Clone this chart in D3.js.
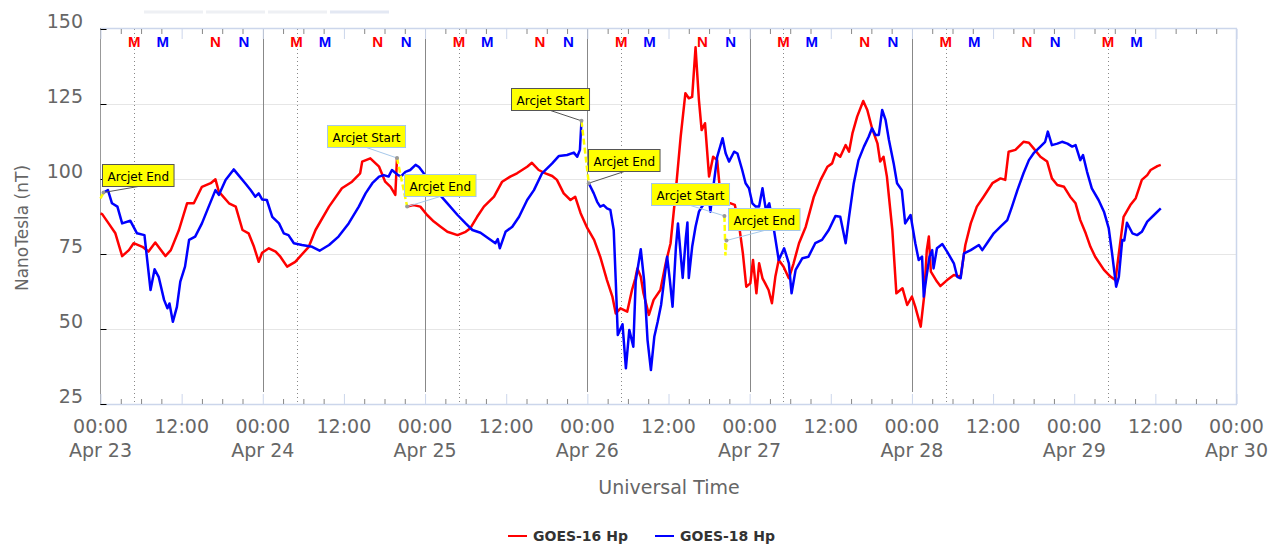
<!DOCTYPE html>
<meta charset="UTF-8">
<style>
body { margin: 0; background: #fff; }
svg { display: block; font-family: "DejaVu Sans", sans-serif; }
.tick-label { fill: #666; font-size: 19px; }
.axis-title { fill: #666; }
.note text { font-size: 12px; fill: #000; }
.legend text { font-size: 14px; font-weight: bold; fill: #333; }
.mn { font-family: "Liberation Sans", sans-serif; font-weight: bold; font-size: 15px; }
</style>
<body>
<script src="https://cdn.jsdelivr.net/npm/d3@7"></script>
<script>

// hours after Apr 23 00:00 UT, field in nT (null = gap during arcjet)
var goes16 = [
  [0,88.5],[0.25,88.3],[1.2,85.2],[2.2,81.9],[3.2,74.3],[4.2,76.3],[4.9,78.6],[6.2,77.4],[7.1,75.8],[8.1,78.8],
  [9.6,74.3],[10.4,76.3],[11.6,83],[12.8,91.9],[13.8,91.9],[15,97.4],[16.3,98.6],[17,99.9],[17.5,95.8],[19,91.9],
  [20,90.8],[21,83],[21.9,81.9],[22.7,77.4],[23.4,72.4],[23.9,75.4],[24.9,76.9],[25.9,75.8],[26.6,74.1],[27.6,70.8],
  [28.8,72.4],[30.8,77.4],[31.8,83],[33.8,90.8],[35.7,96.9],[37.2,99.1],[38.4,101.9],[38.7,105.8],[39.9,106.9],[41.2,104.1],
  [42.1,99.1],[42.9,97.4],[43.6,94.7],[43.85,107],[44.5,null],[45.35,90.8],[46.3,91.3],[47.3,90.8],[48.3,88],[49.3,85.8],
  [50.3,84.1],[51.3,82.4],[52.8,81.3],[54,82.4],[54.7,83.6],[55.7,87.4],[56.7,90.8],[58.2,94.1],[59.4,99.1],[60.6,100.8],
  [61.6,101.9],[63.1,104.1],[63.8,105.4],[64.8,103],[65.8,101.9],[66.8,101],[67.5,99.7],[68.5,95.2],[69.5,93],[70.2,94.1],
  [71,88.6],[72,83.6],[73,79.7],[73.9,74.1],[74.9,66.3],[75.7,60.8],[76.2,55.2],[76.9,56.9],[77.9,55.8],[78.6,63],
  [79.1,66.9],[79.4,70.2],[79.9,67.4],[80.3,61.9],[81.1,54.7],[81.8,59.7],[82.8,63],[83.6,72],[84.3,78.5],[85,94.1],
  [85.8,114.1],[86.5,128.6],[87,126.9],[87.5,127.4],[88,143.9],[88.5,126.3],[88.9,116.3],[89.4,118.6],[90,100.8],[90.6,107.4],
  [91.2,106.3],[91.7,94.1],[92.4,91.9],[93.2,91.9],[93.8,91.4],[94.4,85.2],[95,75.2],[95.5,64.1],[96.1,65.2],[96.5,73],
  [97,61.9],[97.4,71.9],[97.9,66.9],[98.3,65.2],[98.8,63],[99.3,58.6],[99.8,67.4],[100.3,73],[101,70.8],[101.8,66.9],
  [102.5,71.9],[103.3,78.6],[104.3,84.1],[105.5,94.1],[106.5,99.7],[107.5,104.1],[108.2,105.2],[108.7,108.6],[109.4,107.4],[110.2,111.3],
  [110.7,109.1],[111.2,115.2],[111.9,120.8],[112.8,126],[113.4,123],[114.1,116.9],[114.9,111.9],[115.3,105.8],[115.8,107.4],[116.3,100.8],
  [117.1,83],[117.7,61.9],[118.6,63.6],[119.3,58],[120,60.8],[120.5,57.4],[121.3,50.8],[121.8,60.8],[122.2,76.3],[122.5,80.8],
  [122.8,69.1],[123.7,65.8],[124.2,64.3],[125.2,66.3],[126.2,68],[127.2,67.4],[127.9,78],[128.7,85.2],[129.6,90.8],[130.6,94.1],
  [131.9,98.6],[133.1,100.2],[133.8,99.7],[134.3,109.1],[135.3,109.7],[136.5,112.4],[137.3,112.1],[138,110.2],[139,107.4],[140,105.8],
  [140.7,100.2],[141.5,98],[142.5,97.4],[143.4,94.1],[144.2,91.9],[144.9,86.3],[145.7,81.9],[146.4,77.4],[147.1,74.1],[148.4,69.7],
  [149.4,67.4],[150.1,66.3],[150.6,75.2],[151.3,87.4],[152.3,91.3],[153.1,93.6],[154,99.7],[154.8,101.3],[155.3,103],[156.3,104.3],
  [156.8,104.7]
];

var goes18 = [
  [0.45,95.5],[1.1,96.3],[1.7,91.9],[2.5,90.8],[3.2,85.2],[4.4,86.1],[5.4,81.9],[6.5,81.3],[7.4,63],[8,69.9],
  [8.6,67.4],[9.4,59.7],[9.9,56.9],[10.2,58.5],[10.7,52.4],[11.3,57.4],[11.8,65.8],[12.5,70.8],[13.1,79.7],[14,80.8],
  [15,85.2],[16,90.8],[17,96.3],[17.5,94.7],[18.5,99.7],[19.7,103.2],[20.4,101.3],[21.4,98.6],[22.2,96.3],[22.9,94.1],
  [23.4,95.2],[23.9,93.2],[24.6,93],[25.4,87.4],[26.4,85.2],[27.1,81.9],[27.8,81.3],[28.6,78.6],[29.8,78],[31.3,77.4],
  [32.4,76.1],[33.8,78],[35.2,80.8],[36.7,85.2],[38.2,90.8],[39.2,95.2],[40.2,98.6],[41.2,100.8],[41.9,101.3],[42.6,100.8],
  [43.1,103],[43.9,101.5],[44.4,100.8],[45.1,102.4],[45.8,103],[46.6,104.7],[47.1,104],[47.8,101.9],[48.8,98],[50,95.2],
  [51.3,91.9],[52.8,88],[54,85.2],[55,83],[56.2,82.1],[57.4,80.2],[58.4,78.6],[58.75,80],[59.05,76.9],[59.9,82.4],
  [60.9,84.1],[61.9,87.4],[63.1,93],[64.1,96.3],[65.3,101.9],[66.8,105.2],[67.8,107.7],[69,108],[70,108.8],[70.5,107.4],
  [70.9,109.7],[71.13,119.4],[71.6,null],[72.21,98.6],[72.95,95.2],[73.45,92.4],[73.9,90.8],[74.4,91.3],[74.9,90.2],[75.4,89.7],
  [75.9,83],[76.2,66],[76.5,48],[77.2,51.6],[77.7,36.9],[78.2,49.7],[78.8,44.1],[79.15,66],[79.9,76.6],[80.4,66],
  [80.9,46.3],[81.4,36.3],[81.9,47.4],[82.4,52.4],[82.9,58],[83.3,65.2],[83.8,74.1],[84.2,66.3],[84.6,57.4],[85.1,77.4],
  [85.4,85.2],[86.1,67],[86.55,80],[86.8,85.5],[87,67],[87.5,77.4],[88,84.1],[88.5,89.1],[89,91],[90,93],
  [90.2,89.1],[90.7,98.6],[91.2,107.4],[92,113.6],[92.45,108.6],[92.95,105.8],[93.7,109.1],[94.2,108.5],[94.9,103],[95.4,98.6],
  [95.9,96.9],[96.4,91.9],[96.9,90.8],[97.4,90.8],[97.9,96.9],[98.4,89.7],[98.9,91.9],[99.6,83],[100.3,73],[101.1,76.9],
  [101.8,71.9],[102.2,61.9],[102.8,69.7],[103.8,73.6],[104.7,74.1],[105.7,78.6],[106.7,79.7],[107.7,83],[108.7,87.7],[109.4,87.4],
  [110.2,78.6],[110.7,87.4],[111.4,98.6],[112.1,106.3],[112.9,110.8],[113.6,114.1],[114.1,116.9],[114.6,114.7],[115.1,114.7],[115.6,123],
  [116.1,119.7],[116.6,113],[117.3,105.2],[117.8,98.6],[118.5,96.3],[119,85.2],[119.8,88],[120.5,78.6],[121,73],[121.5,74.1],
  [121.75,60.8],[122.15,67.4],[122.6,74.1],[123,76.3],[123.2,70.2],[123.7,76.9],[124.5,78.3],[125.2,75.8],[126.2,71.9],[126.7,67.4],
  [127.2,66.9],[127.7,75.2],[128.7,76.3],[129.9,78],[130.4,76.3],[131.1,78.6],[132.1,81.9],[133.1,84.1],[134.1,86.3],[134.8,90.8],
  [135.6,96.3],[136.5,101.9],[137.3,106.3],[138,108.6],[139,110.8],[139.7,112.4],[140.1,115.8],[140.7,111.3],[141.5,111.8],[142.2,112.4],
  [143,111.8],[143.7,110.8],[144.2,111.3],[144.9,106.3],[145.3,108],[145.9,102.4],[146.6,96.9],[147.6,93],[148.4,89.1],[149.1,83.6],
  [149.6,75.2],[150.2,64.1],[150.6,67.4],[151.1,79.7],[151.4,79.5],[151.8,85.4],[152.6,81.9],[153.3,81.3],[154,82.4],[154.8,85.8],
  [155.8,88],[156.8,90.2]
];

// arcjet-flagged stretches (drawn yellow, dashed)
var arcjetParts = [
  [[0,93.5],[0.45,95.5]],
  [[43.85,107],[45.35,90.8]],
  [[71.13,119.4],[72.21,98.6]],
  [[92.27,87.7],[92.42,74.5],[92.57,79.5]]
];

var noteLabels = ["Arcjet End", "Arcjet Start", "Arcjet End", "Arcjet Start", "Arcjet End", "Arcjet Start", "Arcjet End"];
var noteHours  = [0.45, 43.85, 45.35, 71.13, 72.21, 92.27, 92.57];
var noteValues = [95.5, 107, 90.8, 119.4, 98.6, 87.7, 79.5];

var dayNames = ["Apr 23", "Apr 24", "Apr 25", "Apr 26", "Apr 27", "Apr 28", "Apr 29", "Apr 30"];
var yTicks = [25, 50, 75, 100, 125, 150];

// local midnight (M) / noon (N) for each satellite, hour of day UT
var g16Midnight = 5.0, g18Midnight = 9.2, g16Noon = 17.0, g18Noon = 21.2;

var seriesNames = ["GOES-16 Hp", "GOES-18 Hp"];
var seriesColors = ["#ff0000", "#0000ff"];

var t0 = Date.UTC(2025, 3, 23);
function toDate(h) { return new Date(t0 + h * 3600000); }

var W = 1285, H = 544;
var plotL = 100.5, plotR = 1236.5, plotT = 29, plotB = 404;

var svg = d3.select("body").append("svg")
    .attr("width", W)
    .attr("height", H);

var x = d3.scaleUtc().domain([toDate(0), toDate(168)]).range([plotL, plotR]);
var y = d3.scaleLinear().domain([25, 150]).range([plotB, plotT]);

// faint buttons above the plot
var btnX = [144, 206, 268, 330];
svg.selectAll("rect.btn").data(btnX).enter().append("rect")
    .attr("x", function(d) { return d; })
    .attr("y", 10.5)
    .attr("width", 59)
    .attr("height", 3)
    .attr("fill", function(d, i) { return i == 3 ? "#e3e8f3" : "#eef0f4"; });

// horizontal grid
svg.selectAll("line.grid").data([50, 75, 100, 125]).enter().append("line")
    .attr("x1", plotL).attr("x2", plotR)
    .attr("y1", function(d) { return Math.round(y(d)) + 0.5; })
    .attr("y2", function(d) { return Math.round(y(d)) + 0.5; })
    .attr("stroke", "#e6e6e6");

// day boundaries
var dayLines = d3.range(1, 6).map(function(k) { return toDate(24 * k); });
svg.selectAll("line.day").data(dayLines).enter().append("line")
    .attr("x1", function(d) { return Math.round(x(d)) + 0.5; })
    .attr("x2", function(d) { return Math.round(x(d)) + 0.5; })
    .attr("y1", plotT).attr("y2", 392)
    .attr("stroke", "#888");

// GOES-16 local midnight dotted lines
var midLines = d3.range(0, 7).map(function(k) { return toDate(24 * k + g16Midnight); });
svg.selectAll("line.mid").data(midLines).enter().append("line")
    .attr("x1", function(d) { return Math.round(x(d)) + 0.5; })
    .attr("x2", function(d) { return Math.round(x(d)) + 0.5; })
    .attr("y1", plotT).attr("y2", plotB)
    .attr("stroke", "#888")
    .attr("stroke-dasharray", "1,3");

// plot frame
svg.append("line").attr("x1", plotL).attr("x2", plotR + 0.5).attr("y1", plotT - 0.5).attr("y2", plotT - 0.5)
    .attr("stroke", "#ccd6eb").attr("stroke-width", 1.5);
svg.append("line").attr("x1", plotR).attr("x2", plotR).attr("y1", plotT - 0.5).attr("y2", plotB)
    .attr("stroke", "#ccd6eb").attr("stroke-width", 1.5);
svg.append("line").attr("x1", plotL).attr("x2", plotR + 0.5).attr("y1", plotB + 0.5).attr("y2", plotB + 0.5)
    .attr("stroke", "#ccd6eb").attr("stroke-width", 1.5);
svg.append("line").attr("x1", plotL).attr("x2", plotL).attr("y1", plotT - 1).attr("y2", plotB + 1)
    .attr("stroke", "#999");

// x ticks, bottom and top, pointing inwards
var majorTicks = d3.range(0, 169, 12).map(toDate);
var minorTicks = d3.range(3, 168, 3).filter(function(h) { return h % 12 != 0; }).map(toDate);

function tickAxes(g, axisFn, shift) {
  g.append("g").attr("transform", "translate(0," + shift + ")")
      .call(axisFn(x).tickValues(minorTicks).tickSize(-5).tickFormat(""))
      .call(function(s) { s.select(".domain").remove(); s.selectAll("line").attr("stroke", "#888"); });
  g.append("g").attr("transform", "translate(0," + shift + ")")
      .call(axisFn(x).tickValues(majorTicks).tickSize(-10).tickFormat(""))
      .call(function(s) { s.select(".domain").remove(); s.selectAll("line").attr("stroke", "#ccd6eb"); });
}
tickAxes(svg.append("g"), d3.axisBottom, plotB);
tickAxes(svg.append("g"), d3.axisTop, plotT);

// x tick labels
var fmt = d3.utcFormat("%H:%M");
var xl = svg.append("g");
majorTicks.forEach(function(d, i) {
  xl.append("text").attr("class", "tick-label")
      .attr("x", x(d)).attr("y", 433)
      .attr("text-anchor", "middle")
      .text(fmt(d));
  if (d.getUTCHours() == 0) {
    xl.append("text").attr("class", "tick-label")
        .attr("x", x(d)).attr("y", 457)
        .attr("text-anchor", "middle")
        .text(dayNames[i / 2]);
  }
});

// y axis
svg.append("g")
    .attr("transform", "translate(" + plotL + ",0)")
    .call(d3.axisLeft(y).tickValues(yTicks).tickSize(-6).tickPadding(17.5))
    .call(function(g) {
      g.attr("font-family", null).attr("font-size", null);
      g.select(".domain").remove();
      g.selectAll("line").attr("stroke", "#000");
      g.selectAll("text").attr("class", "tick-label").attr("fill", null).attr("dy", "-0.08em");
    });

// axis titles
svg.append("text").attr("class", "axis-title")
    .attr("transform", "translate(28,228) rotate(-90)")
    .attr("text-anchor", "middle")
    .style("font-size", "17px")
    .text("NanoTesla (nT)");

svg.append("text").attr("class", "axis-title")
    .attr("x", 669).attr("y", 494)
    .attr("text-anchor", "middle")
    .style("font-size", "19px")
    .text("Universal Time");

// data lines
var line = d3.line()
    .defined(function(d) { return d[1] != null; })
    .x(function(d) { return x(toDate(d[0])); })
    .y(function(d) { return y(d[1]); });

var plot = svg.append("g");
[goes16, goes18].forEach(function(s, i) {
  plot.append("path")
      .datum(s)
      .attr("d", line)
      .attr("fill", "none")
      .attr("stroke", seriesColors[i])
      .attr("stroke-width", 2.5)
      .attr("stroke-linejoin", "round");
});

plot.selectAll("path.arcjet").data(arcjetParts).enter().append("path")
    .attr("d", line)
    .attr("fill", "none")
    .attr("stroke", "#ffff00")
    .attr("stroke-width", 2.5)
    .attr("stroke-dasharray", "6,3");

// M / N markers along the top
var mn = [];
d3.range(0, 7).forEach(function(k) {
  mn.push({t: "M", h: 24 * k + g16Midnight, c: seriesColors[0]});
  mn.push({t: "M", h: 24 * k + g18Midnight, c: seriesColors[1]});
  if (k < 6) {
    mn.push({t: "N", h: 24 * k + g16Noon, c: seriesColors[0]});
    mn.push({t: "N", h: 24 * k + g18Noon, c: seriesColors[1]});
  }
});
svg.selectAll("text.mn").data(mn).enter().append("text")
    .attr("class", "mn")
    .attr("x", function(d) { return x(toDate(d.h)); })
    .attr("y", 47)
    .attr("text-anchor", "middle")
    .attr("fill", function(d) { return d.c; })
    .text(function(d) { return d.t; });

// annotations: box offsets from the point, and border style
var boxDx = [-2, -70, -3, -70, -1, -73, 2];
var boxDy = [-29, -33, -33, -33, -34, -33, -33];
var boxDark = [true, false, false, true, true, false, false];

var notes = svg.append("g").attr("class", "note");
noteLabels.forEach(function(label, i) {
  var px = x(toDate(noteHours[i])), py = y(noteValues[i]);
  var g = notes.append("g");
  var t = g.append("text").text(label);
  var w = t.node().getComputedTextLength() + 10;
  var bx = Math.round(px + boxDx[i]) + 0.5, by = Math.round(py + boxDy[i]) + 0.5;
  var edge = boxDark[i] ? "#555" : "#a6c8ea";
  g.insert("line", "text")
      .attr("x1", bx + w * 0.5).attr("y1", by + 22)
      .attr("x2", px).attr("y2", py)
      .attr("stroke", edge);
  g.insert("rect", "text")
      .attr("x", bx).attr("y", by)
      .attr("width", w).attr("height", 22)
      .attr("fill", "#ffff00")
      .attr("stroke", edge);
  g.append("circle").attr("cx", px).attr("cy", py).attr("r", 2).attr("fill", "#999");
  t.attr("x", bx + 5).attr("y", by + 16);
});

// legend
var legX = [508, 655];
var legend = svg.append("g").attr("class", "legend");
seriesNames.forEach(function(name, i) {
  legend.append("line")
      .attr("x1", legX[i]).attr("x2", legX[i] + 19)
      .attr("y1", 536).attr("y2", 536)
      .attr("stroke", seriesColors[i]).attr("stroke-width", 2);
  legend.append("text")
      .attr("x", legX[i] + 25).attr("y", 541)
      .text(name);
});

</script>
</body>
